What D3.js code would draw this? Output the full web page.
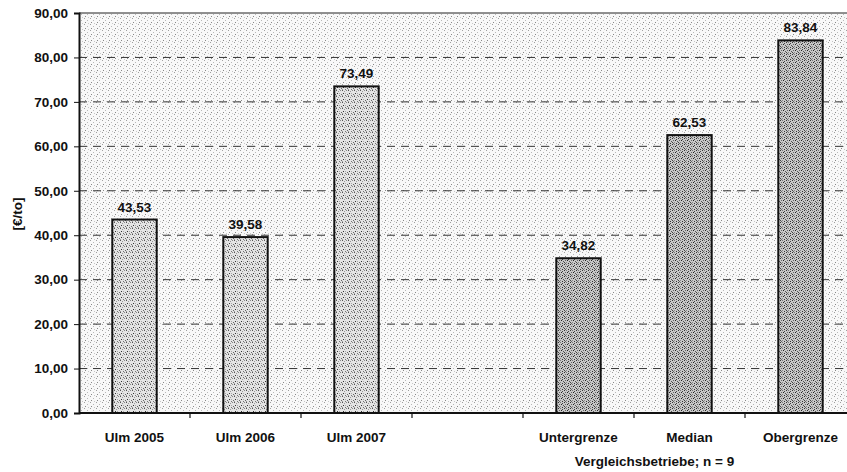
<!DOCTYPE html>
<html>
<head>
<meta charset="utf-8">
<script src="https://cdn.jsdelivr.net/npm/d3@7"></script>
<style>
  html, body { margin: 0; padding: 0; background: #fff; }
  svg { display: block; }
  text { font-family: "Liberation Sans", Arial, sans-serif; font-weight: bold; fill: #111; }
</style>
</head>
<body>
<svg id="chart" width="847" height="472"></svg>
<script>
const categories = ["Ulm 2005", "Ulm 2006", "Ulm 2007", "", "Untergrenze", "Median", "Obergrenze"];
const values = [43.53, 39.58, 73.49, null, 34.82, 62.53, 83.84];
const groups = ["ulm", "ulm", "ulm", null, "cmp", "cmp", "cmp"];
const yTicks = [0, 10, 20, 30, 40, 50, 60, 70, 80, 90];
const yTitle = "[€/to]";
const groupTitle = "Vergleichsbetriebe; n = 9";

(function () {
const svg = d3.select("#chart");
const mLeft = 79, mRight = 856, mTop = 13, mBottom = 413;
const fs = 13.5;

// patterns
const defs = svg.append("defs");
function stipple(id, base, dots) {
  const p = defs.append("pattern").attr("id", id).attr("patternUnits", "userSpaceOnUse")
    .attr("width", 6).attr("height", 6);
  p.append("rect").attr("width", 6).attr("height", 6).attr("fill", base);
  dots.forEach(d => p.append("rect").attr("x", d[0]).attr("y", d[1]).attr("width", 1).attr("height", 1).attr("fill", d[2]));
}
stipple("bg", "#f8f8f8", [[0,0,"#a0a0a0"],[3,2,"#b8b8b8"],[1,4,"#888"],[4,5,"#c8c8c8"]]);
stipple("ulm", "#e4e4e4", [[0,0,"#555"],[2,1,"#999"],[4,0,"#888"],[1,3,"#333"],[3,3,"#aaa"],[5,4,"#666"],[0,5,"#999"],[3,5,"#777"]]);
stipple("cmp", "#c8c8c8", [[0,0,"#333"],[2,0,"#777"],[4,1,"#444"],[1,2,"#666"],[3,2,"#222"],[5,3,"#555"],[0,4,"#444"],[2,4,"#888"],[4,5,"#333"],[1,5,"#666"]]);

const x = d3.scaleBand().domain(categories).range([mLeft, mRight]).paddingInner(0.6).paddingOuter(0.3);
const y = d3.scaleLinear().domain([0, 90]).range([mBottom, mTop]);
const fmt = v => d3.format(".2f")(v).replace(".", ",");

// plot background
svg.append("rect").attr("x", mLeft).attr("y", mTop).attr("width", mRight - mLeft).attr("height", mBottom - mTop)
  .attr("fill", "url(#bg)");

// gridlines
svg.append("g").selectAll("line").data(yTicks.filter(t => t > 0 && t < 90)).join("line")
  .attr("x1", mLeft).attr("x2", mRight).attr("y1", d => y(d)).attr("y2", d => y(d))
  .attr("stroke", "#333").attr("stroke-width", 1).attr("stroke-dasharray", "8,6");

// top border
svg.append("line").attr("x1", mLeft).attr("x2", mRight).attr("y1", y(90)).attr("y2", y(90))
  .attr("stroke", "#222").attr("stroke-width", 1.2);

// bars
const data = categories.map((c, i) => ({ c, v: values[i], g: groups[i] })).filter(d => d.v != null);
svg.append("g").selectAll("rect").data(data).join("rect")
  .attr("x", d => x(d.c)).attr("width", x.bandwidth())
  .attr("y", d => y(d.v)).attr("height", d => y(0) - y(d.v))
  .attr("fill", d => `url(#${d.g})`).attr("stroke", "#111").attr("stroke-width", 2);

// value labels
svg.append("g").selectAll("text").data(data).join("text")
  .attr("x", d => x(d.c) + x.bandwidth() / 2).attr("y", d => y(d.v) - 8)
  .attr("text-anchor", "middle").attr("font-size", fs).text(d => fmt(d.v));

// y axis
const yAxis = d3.axisLeft(y).tickValues(yTicks).tickFormat(fmt).tickSize(5).tickPadding(6);
const gy = svg.append("g").attr("transform", `translate(${mLeft},0)`).call(yAxis);
gy.select(".domain").attr("stroke", "#111").attr("stroke-width", 2);
gy.selectAll(".tick line").attr("stroke", "#111");
gy.selectAll(".tick text").attr("font-size", fs).attr("font-family", "Liberation Sans, Arial, sans-serif")
  .attr("font-weight", "bold").attr("fill", "#111");

// x axis
const step = x.step();
svg.append("line").attr("x1", mLeft).attr("x2", mRight).attr("y1", mBottom).attr("y2", mBottom)
  .attr("stroke", "#111").attr("stroke-width", 2);
svg.append("g").selectAll("line").data(categories.slice(1)).join("line")
  .attr("x1", d => x(d) - step * x.paddingInner() / 2).attr("x2", d => x(d) - step * x.paddingInner() / 2)
  .attr("y1", mBottom).attr("y2", mBottom + 5).attr("stroke", "#111").attr("stroke-width", 1.2);
svg.append("g").selectAll("text").data(categories.filter(c => c)).join("text")
  .attr("x", d => x(d) + x.bandwidth() / 2).attr("y", 442)
  .attr("text-anchor", "middle").attr("font-size", fs).text(d => d);

// group title
const cmpCats = categories.filter((c, i) => groups[i] === "cmp");
svg.append("text").attr("x", (x(cmpCats[0]) + x(cmpCats[cmpCats.length - 1]) + x.bandwidth()) / 2 - 35)
  .attr("y", 466).attr("text-anchor", "middle").attr("font-size", fs).text(groupTitle);

// y title
svg.append("text").attr("transform", `translate(22,214) rotate(-90)`)
  .attr("text-anchor", "middle").attr("font-size", fs).text(yTitle);
})();
</script>
</body>
</html>
